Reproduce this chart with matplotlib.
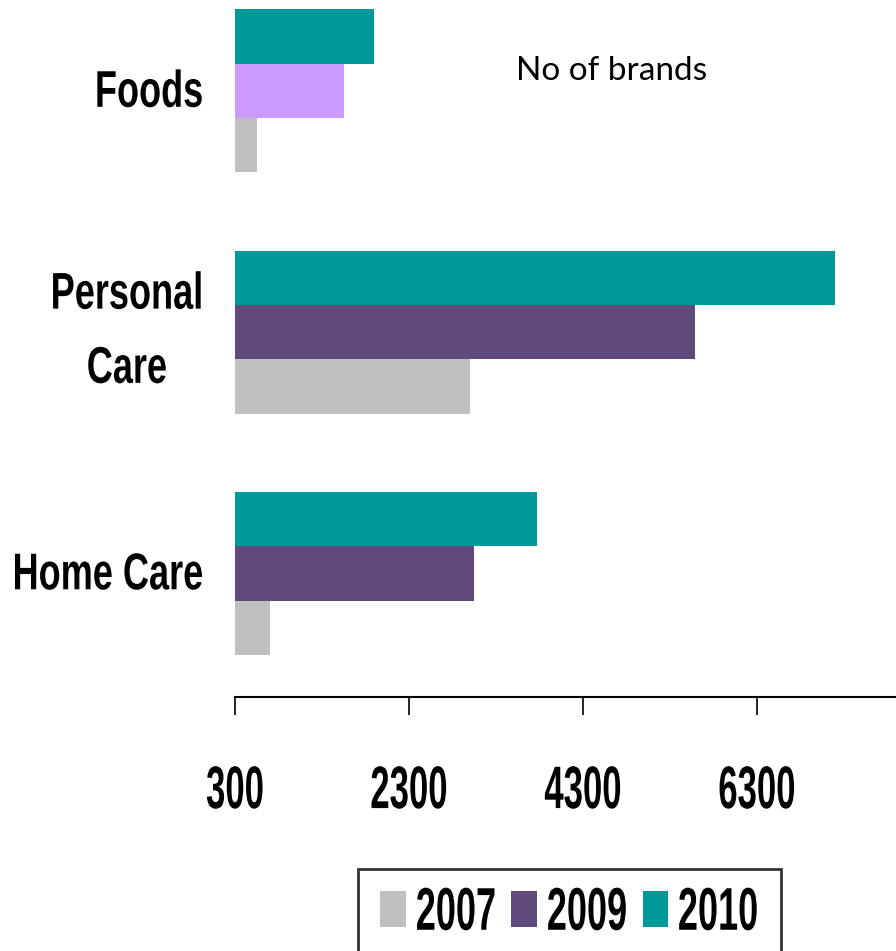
import numpy as np
import matplotlib
matplotlib.use('Agg')
import matplotlib.pyplot as plt
from matplotlib.patches import Patch
from matplotlib.patheffects import AbstractPathEffect
from matplotlib.transforms import Affine2D, ScaledTranslation

# number of brands per category
categories = ['Home Care', 'Personal\nCare', 'Foods']
years = ['2007', '2009', '2010']
brands_2007 = [700, 3000, 550]
brands_2009 = [3050, 5590, 1550]
brands_2010 = [3770, 7200, 1900]
tick_values = [300, 2300, 4300, 6300]

teal = '#009999'
purple = '#604A7B'
lilac = '#CC99FF'
grey = '#C0C0C0'

bold_font = ['Liberation Sans', 'DejaVu Sans']


class Tall(AbstractPathEffect):
    """stretch glyphs vertically about their own centre (condensed look)"""
    def __init__(self, sy):
        super().__init__()
        self.sy = sy

    def draw_path(self, renderer, gc, tpath, affine, rgbFace=None):
        box = tpath.get_extents(affine)
        yc = (box.y0 + box.y1) / 2
        st = Affine2D().translate(0, -yc).scale(1, self.sy).translate(0, yc)
        renderer.draw_path(gc, tpath, affine + st, rgbFace)


fig = plt.figure(figsize=(8.96, 9.51), dpi=100)
ax = fig.add_axes([235 / 896, 1 - 697 / 951, 1 - 235 / 896, 697 / 951])

y = np.arange(len(categories))
h = 0.225
left = tick_values[0]

ax.barh(y - h, np.array(brands_2007) - left, height=h, left=left, color=grey)
c09 = [purple, purple, lilac]
ax.barh(y, np.array(brands_2009) - left, height=h, left=left, color=c09)
ax.barh(y + h, np.array(brands_2010) - left, height=h, left=left, color=teal)

ax.set_xlim(300, 7900)
ax.set_ylim(-0.512, 2.376)

for s in ['top', 'right', 'left']:
    ax.spines[s].set_visible(False)
ax.spines['bottom'].set_linewidth(1.5)

ax.set_xticks(tick_values)
ax.set_xticklabels([str(v) for v in tick_values], family=bold_font,
                   fontweight='bold', fontsize=25)
ax.tick_params(axis='x', direction='out', length=13, width=1.2, pad=42)
for t in ax.get_xticklabels():
    t.set_path_effects([Tall(1.73)])

ax.set_yticks(y)
ax.set_yticklabels(categories, family=bold_font, fontweight='bold',
                   fontsize=26, multialignment='center', linespacing=2.46)
ax.tick_params(axis='y', length=0, pad=23)
for t in ax.get_yticklabels():
    t.set_path_effects([Tall(1.43)])
    # two-line label sits a bit low when centred, nudge it up
    if '\n' in t.get_text():
        t.set_transform(t.get_transform() +
                        ScaledTranslation(0, 0.25, fig.dpi_scale_trans))
    else:
        t.set_transform(t.get_transform() +
                        ScaledTranslation(0, 0.03, fig.dpi_scale_trans))

ax.text(0.57, 0.898, 'No of brands', transform=ax.transAxes, fontsize=24,
        family=['Lato', 'DejaVu Sans'], ha='center', va='center')

# legend box runs off the bottom edge
handles = [Patch(facecolor=grey), Patch(facecolor=purple), Patch(facecolor=teal)]
leg = fig.legend(handles, years, loc='upper left',
                 bbox_to_anchor=(358 / 896, 1 - 869 / 951), ncol=3,
                 prop={'family': bold_font, 'weight': 'bold', 'size': 26},
                 frameon=True, fancybox=False, edgecolor='black',
                 handlelength=0.7, handleheight=1.14, handletextpad=0.28,
                 columnspacing=0.42, borderpad=0.62, borderaxespad=0)
leg.get_frame().set_linewidth(2)
for t in leg.get_texts():
    t.set_path_effects([Tall(1.67)])

fig.savefig('out.png', dpi=100)
